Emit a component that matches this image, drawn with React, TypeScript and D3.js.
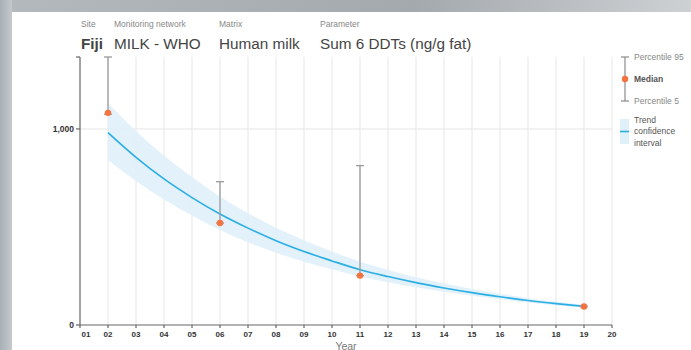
import { useEffect, useRef } from "react";
import * as d3 from "d3";

const years = ["01", "02", "03", "04", "05", "06", "07", "08", "09", "10", "11", "12", "13", "14", "15", "16", "17", "18", "19", "20"];
const yTicks = [0, 1000];

// sampled years (index into years)
const obsYears = [2, 6, 11, 19];
const median = [1082, 520, 252, 94];
const p95 = [1367, 731, 813, 94];
const p5 = [1075, 520, 252, 94];

const trendYears = [2, 3, 4, 5, 6, 7, 8, 9, 10, 11, 12, 13, 14, 15, 16, 17, 18, 19];
const trend = [981, 855, 745, 650, 566, 494, 430, 375, 327, 282, 247, 216, 189, 165, 144, 125, 109, 95];
const upper = [1133, 990, 865, 755, 655, 570, 496, 432, 375, 323, 281, 244, 212, 184, 159, 137, 118, 102];
const lower = [842, 735, 640, 558, 485, 422, 369, 323, 284, 248, 218, 192, 169, 149, 131, 115, 101, 88];

const App = () => {
  const svgRef = useRef<SVGSVGElement>(null);

  useEffect(() => {
    if (!svgRef.current) return;
    const svg = d3.select(svgRef.current);
    svg.selectAll("*").remove();

    const W = 691, H = 350;
    const m = { top: 57, right: 79, bottom: 25, left: 80 };
    const font = "Liberation Sans, Arial, sans-serif";

    // screenshot frame
    const defs = svg.append("defs");
    const gl = defs.append("linearGradient").attr("id", "gl").attr("x1", 0).attr("x2", 1);
    gl.append("stop").attr("offset", 0).attr("stop-color", "#a9b0b5");
    gl.append("stop").attr("offset", 1).attr("stop-color", "#c3c9cd");
    const gt = defs.append("linearGradient").attr("id", "gt").attr("x1", 0).attr("x2", 1);
    gt.append("stop").attr("offset", 0).attr("stop-color", "#b4b9bd");
    gt.append("stop").attr("offset", 0.6).attr("stop-color", "#a4a9ad");
    gt.append("stop").attr("offset", 1).attr("stop-color", "#cdd1d4");
    svg.append("rect").attr("width", W).attr("height", H).attr("fill", "#fff");
    svg.append("rect").attr("x", 0).attr("y", 0).attr("width", W).attr("height", 12).attr("fill", "url(#gt)");
    svg.append("rect").attr("x", 0).attr("y", 0).attr("width", 12).attr("height", H).attr("fill", "url(#gl)");

    const x = d3.scaleLinear().domain([1, 20]).range([m.left, W - m.right]);
    const y = d3.scaleLinear().domain([0, 1367]).range([H - m.bottom, m.top]);

    // header
    const heads = [
      { k: "Site", v: "Fiji", x: 81, bold: true },
      { k: "Monitoring network", v: "MILK - WHO", x: 114, bold: false },
      { k: "Matrix", v: "Human milk", x: 219, bold: false },
      { k: "Parameter", v: "Sum 6 DDTs (ng/g fat)", x: 320, bold: false },
    ];
    heads.forEach((h) => {
      svg.append("text").attr("x", h.x).attr("y", 27).attr("font-family", font)
        .attr("font-size", 8.5).attr("fill", "#888").text(h.k);
      svg.append("text").attr("x", h.x).attr("y", 49).attr("font-family", font)
        .attr("font-size", 15.3).attr("font-weight", h.bold ? "bold" : "normal")
        .attr("fill", "#444").text(h.v);
    });

    // grid
    svg.append("g").selectAll("line").data(d3.range(2, 21)).join("line")
      .attr("x1", (d) => x(d)).attr("x2", (d) => x(d))
      .attr("y1", m.top).attr("y2", H - m.bottom)
      .attr("stroke", "#e6e6e6").attr("stroke-width", 1);
    svg.append("line").attr("x1", m.left).attr("x2", x(20))
      .attr("y1", y(1000)).attr("y2", y(1000)).attr("stroke", "#e6e6e6");

    // confidence band and trend
    const band = d3.area<number>()
      .x((_, i) => x(trendYears[i]))
      .y0((_, i) => y(lower[i]))
      .y1((d) => y(d))
      .curve(d3.curveMonotoneX);
    svg.append("path").datum(upper).attr("d", band).attr("fill", "#dff0f9").attr("opacity", 0.9);
    const line = d3.line<number>()
      .x((_, i) => x(trendYears[i]))
      .y((d) => y(d))
      .curve(d3.curveMonotoneX);
    svg.append("path").datum(trend).attr("d", line).attr("fill", "none")
      .attr("stroke", "#2aaee4").attr("stroke-width", 1.6);

    // whiskers
    const wk = svg.append("g");
    obsYears.forEach((yr, i) => {
      const cx = x(yr);
      wk.append("line").attr("x1", cx).attr("x2", cx).attr("y1", y(p95[i])).attr("y2", y(p5[i]))
        .attr("stroke", "#9a9a9a").attr("stroke-width", 1.3);
      [p95[i], p5[i]].forEach((v) => {
        wk.append("line").attr("x1", cx - 4).attr("x2", cx + 4).attr("y1", y(v)).attr("y2", y(v))
          .attr("stroke", "#9a9a9a").attr("stroke-width", 1.3);
      });
      wk.append("circle").attr("cx", cx).attr("cy", y(median[i])).attr("r", 3.2).attr("fill", "#f4733e");
    });

    // y axis
    svg.append("line").attr("x1", m.left).attr("x2", m.left).attr("y1", m.top).attr("y2", H - m.bottom)
      .attr("stroke", "#666").attr("stroke-width", 1.2);
    svg.append("line").attr("x1", m.left - 4).attr("x2", m.left).attr("y1", m.top).attr("y2", m.top)
      .attr("stroke", "#666").attr("stroke-width", 1.2);
    const yg = svg.append("g");
    yTicks.forEach((t) => {
      yg.append("line").attr("x1", m.left - 4).attr("x2", m.left).attr("y1", y(t)).attr("y2", y(t))
        .attr("stroke", "#666").attr("stroke-width", 1.2);
      yg.append("text").attr("x", m.left - 6).attr("y", y(t)).attr("dy", "0.35em")
        .attr("text-anchor", "end").attr("font-family", font).attr("font-size", 8.5)
        .attr("font-weight", "bold").attr("fill", "#333").text(d3.format(",")(t));
    });

    // x axis
    svg.append("line").attr("x1", m.left).attr("x2", x(20)).attr("y1", H - m.bottom).attr("y2", H - m.bottom)
      .attr("stroke", "#666").attr("stroke-width", 1.2);
    const xg = svg.append("g");
    years.forEach((lab, i) => {
      const xv = x(i + 1);
      xg.append("line").attr("x1", xv).attr("x2", xv).attr("y1", H - m.bottom).attr("y2", H - m.bottom + 3)
        .attr("stroke", "#666").attr("stroke-width", 1.2);
      xg.append("text").attr("x", i === 0 ? xv + 6 : xv).attr("y", H - m.bottom + 12)
        .attr("text-anchor", "middle").attr("font-family", font).attr("font-size", 8)
        .attr("font-weight", "bold").attr("fill", "#333").text(lab);
    });
    svg.append("text").attr("x", (m.left + x(20)) / 2).attr("y", H - 0.5).attr("text-anchor", "middle")
      .attr("font-family", font).attr("font-size", 10.5).attr("fill", "#777").text("Year");

    // legend
    const lx = 625;
    const lg = svg.append("g");
    lg.append("line").attr("x1", lx).attr("x2", lx).attr("y1", 57).attr("y2", 101).attr("stroke", "#8a8a8a").attr("stroke-width", 1.2);
    [57, 101].forEach((v) => {
      lg.append("line").attr("x1", lx - 4).attr("x2", lx + 4).attr("y1", v).attr("y2", v).attr("stroke", "#8a8a8a").attr("stroke-width", 1.2);
    });
    lg.append("circle").attr("cx", lx).attr("cy", 79).attr("r", 3.2).attr("fill", "#f4733e");
    const legT = [
      { t: "Percentile 95", y: 57, b: false, c: "#888" },
      { t: "Median", y: 79, b: true, c: "#555" },
      { t: "Percentile 5", y: 101, b: false, c: "#888" },
      { t: "Trend", y: 120, b: false, c: "#555" },
      { t: "confidence", y: 131.5, b: false, c: "#555" },
      { t: "interval", y: 143, b: false, c: "#555" },
    ];
    legT.forEach((d) => {
      lg.append("text").attr("x", 634).attr("y", d.y).attr("dy", "0.35em").attr("font-family", font)
        .attr("font-size", 8.5).attr("font-weight", d.b ? "bold" : "normal").attr("fill", d.c).text(d.t);
    });
    lg.append("rect").attr("x", 620).attr("y", 119).attr("width", 9).attr("height", 25).attr("fill", "#dff0f9");
    lg.append("line").attr("x1", 620).attr("x2", 629).attr("y1", 131.5).attr("y2", 131.5).attr("stroke", "#2aaee4").attr("stroke-width", 1.6);
  }, []);

  return <svg ref={svgRef} width={691} height={350} style={{ position: "absolute", left: 0, top: 0 }} />;
};

export default App;
